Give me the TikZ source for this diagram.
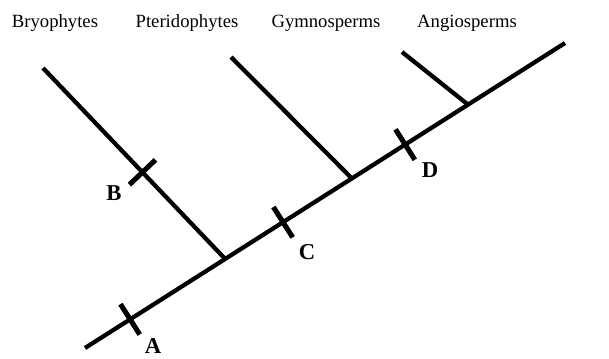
\documentclass[tikz,border=0pt]{standalone}
\usepackage{fontspec}
\setmainfont{Liberation Serif}
\usetikzlibrary{calc}
\tikzset{
  taxon/.style={anchor=base,font=\fontsize{14}{16}\selectfont,inner sep=0pt},
  marker/.style={font=\bfseries\fontsize{17}{19}\selectfont,inner sep=0pt},
  stem/.style={line width=3.2pt},
  tick/.style={line width=3.8pt},
}
\begin{document}
\begin{tikzpicture}[x=0.75pt,y=-0.75pt]
  \useasboundingbox (0,0) rectangle (609,358);
  % main axis
  \coordinate (root) at (85,348);
  \coordinate (angio) at (565,43);
  \coordinate (bryo) at (43,68);
  \coordinate (pter) at (231,57);
  \coordinate (gymno) at (402,52);
  \coordinate (jb) at ($(root)!.292!(angio)$);
  \coordinate (jp) at ($(root)!.556!(angio)$);
  \coordinate (jg) at ($(root)!.798!(angio)$);
  \draw[stem] (root) -- (angio);
  \draw[stem] (bryo) -- (jb);
  \draw[stem] (pter) -- (jp);
  \draw[stem] (gymno) -- (jg);
  % ticks
  \coordinate (tA) at ($(root)!.094!(angio)$);
  \coordinate (tC) at ($(root)!.4125!(angio)$);
  \coordinate (tD) at ($(root)!.667!(angio)$);
  \coordinate (tB) at ($(bryo)!.546!(jb)$);
  \foreach \t in {tA,tC,tD}
    \draw[tick] ($(\t)!13.5pt!90:(angio)$) -- ($(\t)!13.5pt!-90:(angio)$);
  \draw[tick] ($(tB)!13.5pt!90:(jb)$) -- ($(tB)!13.5pt!-90:(jb)$);
  % labels
  \node[marker] (A) at (153,346) {A};
  \node[marker] (B) at (114,193) {B};
  \node[marker] (C) at (307,252) {C};
  \node[marker] (D) at (430,170) {D};
  \node[taxon] (nbryo) at (55,27) {Bryophytes};
  \node[taxon] (npter) at (187,27) {Pteridophytes};
  \node[taxon] (ngymno) at (326,27) {Gymnosperms};
  \node[taxon] (nangio) at (467,27) {Angiosperms};
\end{tikzpicture}
\end{document}
